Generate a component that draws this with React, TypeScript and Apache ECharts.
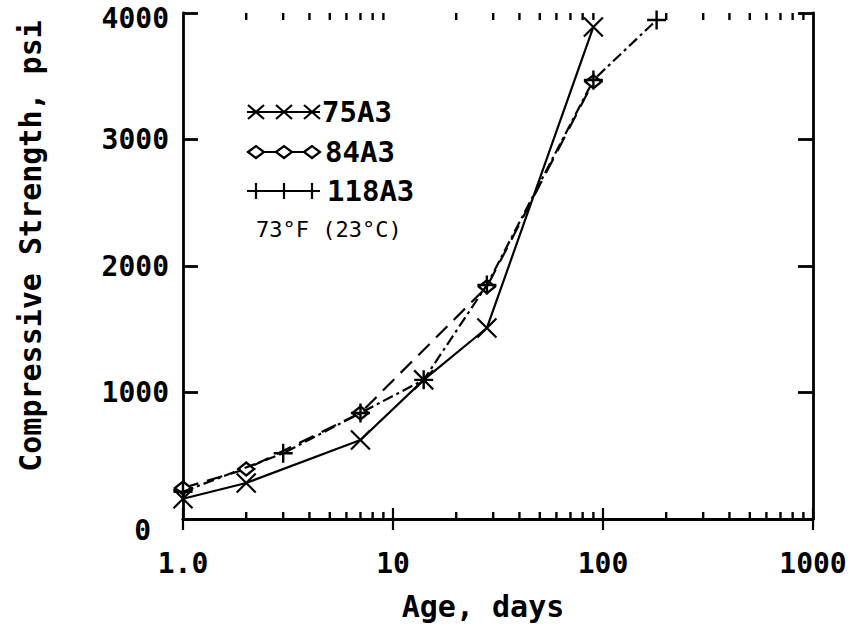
import { useEffect, useRef } from "react";
import * as echarts from "echarts";

const ages75 = [1, 2, 7, 14, 28, 90];
const strength75 = [160, 285, 625, 1100, 1510, 3890];
const ages84 = [1, 2, 7, 28, 90];
const strength84 = [245, 395, 838, 1836, 3457];
const ages118 = [1, 3, 7, 14, 28, 90, 180];
const strength118 = [215, 520, 838, 1100, 1850, 3470, 3945];
const seriesNames = ["75A3", "84A3", "118A3"];
const conditionLabel = "73°F (23°C)";
const xMinorTicks = [2, 3, 4, 5, 6, 7, 8, 9, 20, 30, 40, 50, 60, 70, 80, 90, 200, 300, 400, 500, 600, 700, 800, 900];
const xTitle = "Age, days";
const yTitle = "Compressive Strength, psi";

const FONT = "DejaVu Sans Mono";
const X_SYMBOL = "path://M0,0L20,20M20,0L0,20";
const PLUS_SYMBOL = "path://M10,0L10,20M0,10L20,10";

function pairs(xs: number[], ys: number[]) {
  return xs.map((x, i) => [x, ys[i]]);
}

function legendRow(y: number, kind: string, label: string, textX: number) {
  const children: any[] = [
    { type: "line", shape: { x1: 247, y1: y, x2: 320, y2: y }, style: { stroke: "#000", lineWidth: 1.8 } },
  ];
  [256, 284, 312].forEach((cx) => {
    if (kind === "x") {
      children.push({ type: "line", shape: { x1: cx - 8, y1: y - 7, x2: cx + 8, y2: y + 7 }, style: { stroke: "#000", lineWidth: 2.2 } });
      children.push({ type: "line", shape: { x1: cx - 8, y1: y + 7, x2: cx + 8, y2: y - 7 }, style: { stroke: "#000", lineWidth: 2.2 } });
    } else if (kind === "d") {
      children.push({
        type: "polygon",
        shape: { points: [[cx - 8, y], [cx, y - 6], [cx + 8, y], [cx, y + 6]] },
        style: { fill: "#fff", stroke: "#000", lineWidth: 2.2 },
      });
    } else {
      children.push({ type: "line", shape: { x1: cx, y1: y - 8, x2: cx, y2: y + 8 }, style: { stroke: "#000", lineWidth: 2.2 } });
    }
  });
  children.push({
    type: "text",
    style: { x: textX, y, text: label, font: `bold 29px "${FONT}"`, fill: "#000", verticalAlign: "middle" },
  });
  return { type: "group", children };
}

export default function App() {
  const ref = useRef<HTMLDivElement>(null);
  useEffect(() => {
    if (!ref.current) return;
    const chart = echarts.init(ref.current, null, { renderer: "svg" });
    const axisLine = { show: true, lineStyle: { color: "#000", width: 2.8 } };
    const labelStyle = { color: "#000", fontFamily: FONT, fontWeight: "bold" as const, fontSize: 28 };
    chart.setOption({
      animation: false,
      backgroundColor: "#fff",
      grid: { left: 183, top: 13, width: 630, height: 506, containLabel: false },
      xAxis: [
        {
          type: "log",
          logBase: 10,
          min: 1,
          max: 1000,
          position: "bottom",
          axisLine,
          axisTick: { show: true, inside: true, length: 11, lineStyle: { color: "#000", width: 2.2 } },
          axisLabel: { ...labelStyle, margin: 30, formatter: (v: number) => (v === 1 ? "1.0" : String(v)) },
          splitLine: { show: false },
          name: xTitle,
          nameLocation: "middle",
          nameGap: 72,
          nameTextStyle: { ...labelStyle, fontSize: 30, padding: [0, 30, 0, 0] },
        },
        {
          type: "log",
          logBase: 10,
          min: 1,
          max: 1000,
          position: "top",
          axisLine,
          axisTick: { show: true, inside: true, length: 11, lineStyle: { color: "#000", width: 2.2 } },
          axisLabel: { show: false },
          splitLine: { show: false },
        },
      ],
      yAxis: [
        {
          type: "value",
          min: 0,
          max: 4000,
          interval: 1000,
          position: "left",
          axisLine,
          axisTick: { show: true, inside: true, length: 15, lineStyle: { color: "#000", width: 2.8 } },
          axisLabel: {
            ...labelStyle,
            margin: 14,
            formatter: (v: number) => (v === 0 ? "{z|0}" : v === 4000 ? "{t|4000}" : String(v)),
            rich: {
              z: { ...labelStyle, padding: [22, 18, 0, 0] },
              t: { ...labelStyle, padding: [10, 0, 0, 0] },
            },
          },
          splitLine: { show: false },
          name: yTitle,
          nameLocation: "middle",
          nameGap: 138,
          nameTextStyle: { ...labelStyle, fontSize: 30, padding: [0, 0, 0, 40] },
        },
        {
          type: "value",
          min: 0,
          max: 4000,
          interval: 1000,
          position: "right",
          axisLine,
          axisTick: { show: true, inside: true, length: 15, lineStyle: { color: "#000", width: 2.8 } },
          axisLabel: { show: false },
          splitLine: { show: false },
        },
      ],
      series: [
        {
          type: "custom",
          name: "minorTicks",
          xAxisIndex: 0,
          yAxisIndex: 0,
          silent: true,
          clip: false,
          encode: { x: 0, y: 1 },
          data: xMinorTicks.map((v) => [v, 0]),
          renderItem: (_p: any, api: any) => {
            const v = api.value(0);
            const b = api.coord([v, 0]);
            const t = api.coord([v, 4000]);
            return {
              type: "group",
              children: [
                { type: "line", shape: { x1: b[0], y1: b[1], x2: b[0], y2: b[1] - 7 }, style: { stroke: "#000", lineWidth: 2.4 } },
                { type: "line", shape: { x1: t[0], y1: t[1], x2: t[0], y2: t[1] + 7 }, style: { stroke: "#000", lineWidth: 2.4 } },
              ],
            };
          },
        },
        {
          type: "line",
          name: seriesNames[0],
          data: pairs(ages75, strength75),
          clip: false,
          symbol: X_SYMBOL,
          symbolSize: 19,
          itemStyle: { color: "#000", borderColor: "#000", borderWidth: 2.2 },
          lineStyle: { color: "#000", width: 2.2, type: "solid" },
          z: 3,
        },
        {
          type: "line",
          name: seriesNames[1],
          data: pairs(ages84, strength84),
          clip: false,
          symbol: "diamond",
          symbolSize: [16, 13],
          itemStyle: { color: "#fff", borderColor: "#000", borderWidth: 2.4 },
          lineStyle: { color: "#000", width: 2.2, type: [16, 9] },
          z: 4,
        },
        {
          type: "line",
          name: seriesNames[2],
          data: pairs(ages118, strength118),
          clip: false,
          symbol: PLUS_SYMBOL,
          symbolSize: 19,
          itemStyle: { color: "#000", borderColor: "#000", borderWidth: 2.4 },
          lineStyle: { color: "#000", width: 2.2, type: [11, 4, 3, 4] },
          z: 5,
        },
      ],
      graphic: [
        legendRow(112, "x", seriesNames[0], 322),
        legendRow(152, "d", seriesNames[1], 325),
        legendRow(191, "p", seriesNames[2], 327),
        {
          type: "text",
          style: { x: 256, y: 229, text: conditionLabel, font: `22px "${FONT}"`, fill: "#000", verticalAlign: "middle" },
        },
      ],
    });
    return () => chart.dispose();
  }, []);
  return <div ref={ref} style={{ position: "fixed", left: 0, top: 0, width: 854, height: 632 }} />;
}
